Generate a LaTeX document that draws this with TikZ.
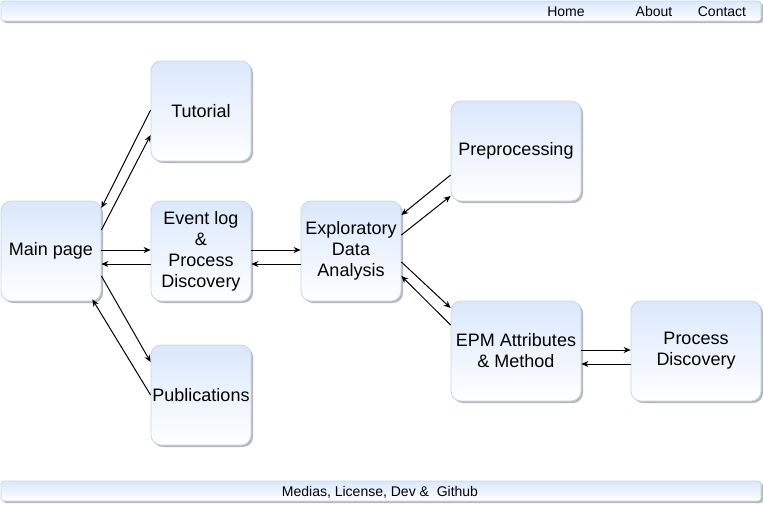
\documentclass[tikz,border=0pt]{standalone}
\usepackage{fontspec}
\setmainfont{Liberation Sans}
\usetikzlibrary{arrows.meta,shadows}
\definecolor{topblue}{HTML}{DAE8FC}
\definecolor{edgeblue}{HTML}{C4D6EE}
\definecolor{shadowgray}{HTML}{B8B8B8}
\tikzset{
  box/.style={rectangle, rounded corners=10pt, top color=topblue, bottom color=white,
    draw=edgeblue, line width=0.8pt, align=center, inner sep=1pt,
    font=\fontsize{18}{21}\selectfont,
    drop shadow={shadow xshift=2pt, shadow yshift=-2pt, fill=shadowgray, opacity=1}},
  bar/.style={rectangle, rounded corners=3pt, top color=topblue, bottom color=white,
    draw=edgeblue, line width=0.8pt, minimum width=760pt, minimum height=20pt,
    drop shadow={shadow xshift=2pt, shadow yshift=-2pt, fill=shadowgray, opacity=1}},
  bartext/.style={font=\fontsize{14}{16}\selectfont, inner sep=0pt, anchor=base},
  conn/.style={line width=1pt, -{Stealth[length=7pt,width=6pt]}}
}
\begin{document}
\begin{tikzpicture}[x=1pt,y=-1pt]
\useasboundingbox (0,0) rectangle (763,504);
% header and footer
\node[bar] (header) at (381,11) {};
\node[bartext] (home) at (566,16) {Home};
\node[bartext] (about) at (654,16) {About};
\node[bartext] (contact) at (722,16) {Contact};
\node[bar] (footer) at (381,491) {};
\node[bartext] (foottext) at (380,496) {Medias, License, Dev \&\ \ Github};
% boxes
\node[box, minimum width=100pt, minimum height=100pt] (main) at (51,251) {Main page};
\node[box, minimum width=100pt, minimum height=100pt] (tut) at (201,111) {Tutorial};
\node[box, minimum width=100pt, minimum height=100pt] (ev) at (201,251) {Event log\\\&\\Process\\Discovery};
\node[box, minimum width=100pt, minimum height=100pt] (pub) at (201,395) {Publications};
\node[box, minimum width=100pt, minimum height=100pt] (eda) at (351,251) {Exploratory\\Data\\Analysis};
\node[box, minimum width=130pt, minimum height=100pt] (pre) at (516,151) {Preprocessing};
\node[box, minimum width=130pt, minimum height=100pt] (epm) at (516,351) {EPM Attributes\\\& Method};
\node[box, minimum width=130pt, minimum height=100pt] (pd) at (696,351) {Process\\Discovery};
% connectors
\draw[conn] ([yshift=1pt]main.east) -- ([yshift=1pt]ev.west);
\draw[conn] ([yshift=-13pt]ev.west) -- ([yshift=-13pt]main.east);
\draw[conn] ([yshift=1pt]ev.east) -- ([yshift=1pt]eda.west);
\draw[conn] ([yshift=-13pt]eda.west) -- ([yshift=-13pt]ev.east);
\draw[conn] ([yshift=1pt]tut.west) -- ([yshift=43pt]main.east);
\draw[conn] ([yshift=21pt]main.east) -- ([yshift=-24pt]tut.west);
\draw[conn] ([yshift=-25pt]main.east) -- ([yshift=33pt]pub.west);
\draw[conn] (pub.west) -- ([xshift=-9pt,yshift=2pt]main.south east);
\draw[conn] ([yshift=-24pt]pre.west) -- ([yshift=36pt]eda.east);
\draw[conn] ([yshift=16pt]eda.east) -- ([yshift=-45pt]pre.west);
\draw[conn] ([yshift=-11pt]eda.east) -- ([yshift=43pt]epm.west);
\draw[conn] ([yshift=26pt]epm.west) -- ([yshift=-25pt]eda.east);
\draw[conn] ([yshift=1pt]epm.east) -- ([yshift=1pt]pd.west);
\draw[conn] ([yshift=-13pt]pd.west) -- ([yshift=-13pt]epm.east);
\end{tikzpicture}
\end{document}
